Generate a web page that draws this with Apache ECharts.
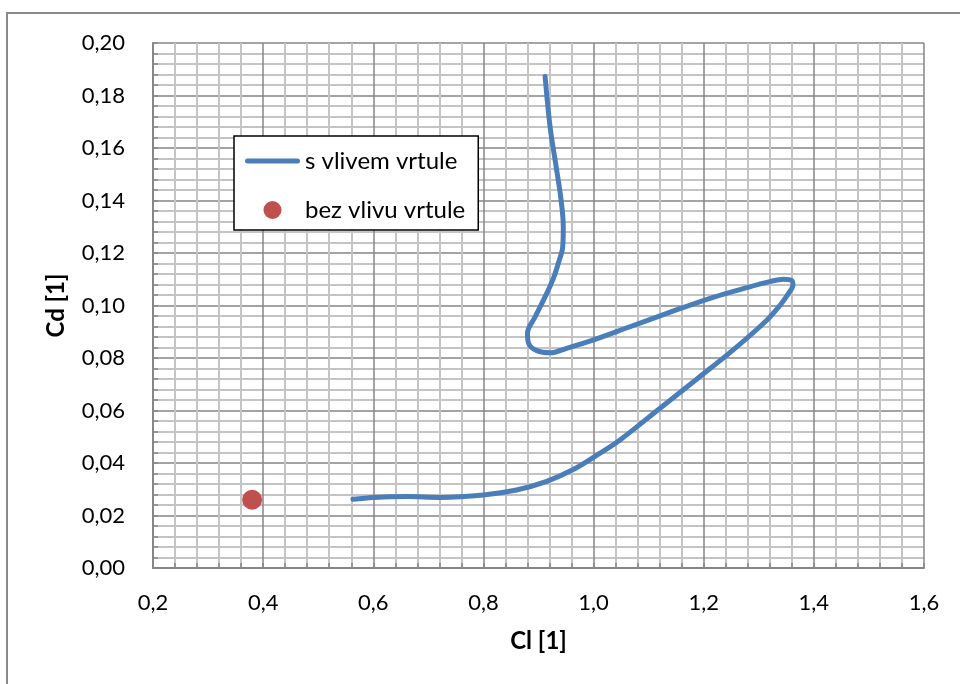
<!DOCTYPE html>
<html>
<head>
<meta charset="utf-8">
<script src="https://cdn.jsdelivr.net/npm/echarts@6/dist/echarts.min.js"></script>
<style>
  html, body { margin: 0; padding: 0; background: #ffffff; }
  #chart { width: 960px; height: 684px; }
</style>
</head>
<body>
<div id="chart"></div>
<script>
// Drag polar: Cl (x) against Cd (y)
const seriesNames = ['s vlivem vrtule', 'bez vlivu vrtule'];

// with propeller influence, traced along the polar
const clWithProp = [0.563, 0.600, 0.661, 0.721, 0.800, 0.860, 0.915, 0.963, 1.006, 1.048,
  1.119, 1.190, 1.253, 1.315, 1.339, 1.354, 1.362, 1.360, 1.345, 1.320,
  1.278, 1.217, 1.133, 1.066, 1.000, 0.951, 0.921, 0.897, 0.882, 0.880,
  0.894, 0.915, 0.927, 0.936, 0.944, 0.945, 0.941, 0.932, 0.921, 0.912];
const cdWithProp = [0.0262, 0.0269, 0.0272, 0.0269, 0.0278, 0.0297, 0.0330, 0.0375, 0.0430, 0.0488,
  0.0606, 0.0724, 0.0830, 0.0945, 0.1002, 0.1046, 0.1078, 0.1095, 0.1100, 0.1091,
  0.1068, 0.1031, 0.0970, 0.0919, 0.0869, 0.0837, 0.0820, 0.0828, 0.0856, 0.0894,
  0.0957, 0.1046, 0.1103, 0.1161, 0.1224, 0.1300, 0.1402, 0.1529, 0.1681, 0.1872];

// without propeller influence, single point
const clNoProp = [0.380];
const cdNoProp = [0.026];

const xTickStep = 0.2;
const yTickStep = 0.02;

const FONT = 'Lato';
const axisDark = '#868686';
const gridLight = '#c4c4c4';
const lineBlue = '#4a7ebb';
const dotRed = '#c0504d';

// thick rounded bar used as the legend icon of the polar line
const lineIcon = 'path://M2.5,0 L52.5,0 A2.5,2.5 0 0 1 52.5,5 L2.5,5 A2.5,2.5 0 0 1 2.5,0 Z';

const chart = echarts.init(document.getElementById('chart'), null, { renderer: 'canvas' });

const zip = (a, b) => a.map((v, i) => [v, b[i]]);

chart.setOption({
  animation: false,
  backgroundColor: '#ffffff',
  textStyle: { fontFamily: FONT },
  graphic: [{
    type: 'rect',
    silent: true,
    z: -10,
    shape: { x: 7, y: 13, width: 1000, height: 800 },
    style: { fill: 'none', stroke: '#8a8a8a', lineWidth: 2 }
  }],
  grid: {
    left: 153, right: 36, top: 43, bottom: 116,
    containLabel: false,
    outerBoundsMode: 'none'
  },
  legend: {
    show: true,
    orient: 'vertical',
    left: 234, top: 136,
    padding: [13, 13, 8, 11],
    itemWidth: 55, itemHeight: 18, itemGap: 25,
    symbolKeepAspect: true,
    backgroundColor: '#ffffff',
    borderColor: '#000000', borderWidth: 1.5, borderRadius: 0,
    textStyle: { fontFamily: FONT, fontSize: 24, color: '#000000' },
    data: [
      { name: seriesNames[0], icon: lineIcon },
      { name: seriesNames[1], icon: 'circle' }
    ]
  },
  xAxis: {
    type: 'value',
    min: 0.2, max: 1.6, interval: xTickStep,
    name: 'Cl [1]', nameLocation: 'middle', nameGap: 61,
    nameTextStyle: { fontFamily: FONT, fontSize: 24, fontWeight: 'bold', color: '#000000' },
    axisLine: { show: true, lineStyle: { color: axisDark, width: 2 } },
    axisTick: { show: true, inside: true, length: 5, lineStyle: { color: axisDark, width: 1.5 } },
    minorTick: { show: true, splitNumber: 5, length: 5, lineStyle: { color: axisDark, width: 1.5 } },
    axisLabel: {
      margin: 24, fontFamily: FONT, fontSize: 22, color: '#000000',
      formatter: v => v.toFixed(1).replace('.', ',')
    },
    splitLine: { show: true, lineStyle: { color: axisDark, width: 1.5 } },
    minorSplitLine: { show: true, lineStyle: { color: gridLight, width: 2 } }
  },
  yAxis: {
    type: 'value',
    min: 0, max: 0.2, interval: yTickStep,
    name: 'Cd [1]', nameLocation: 'middle', nameGap: 85, nameRotate: 90,
    nameTextStyle: { fontFamily: FONT, fontSize: 24, fontWeight: 'bold', color: '#000000' },
    axisLine: { show: true, lineStyle: { color: axisDark, width: 2 } },
    axisTick: { show: true, inside: true, length: 5, lineStyle: { color: axisDark, width: 1.5 } },
    minorTick: { show: true, splitNumber: 5, length: 5, lineStyle: { color: axisDark, width: 1.5 } },
    axisLabel: {
      margin: 28, fontFamily: FONT, fontSize: 22, color: '#000000',
      formatter: v => v.toFixed(2).replace('.', ',')
    },
    splitLine: { show: true, lineStyle: { color: axisDark, width: 1.5 } },
    minorSplitLine: { show: true, lineStyle: { color: gridLight, width: 2 } }
  },
  series: [
    {
      name: seriesNames[0],
      type: 'line',
      data: zip(clWithProp, cdWithProp),
      smooth: 0.35,
      showSymbol: false,
      symbol: 'none',
      lineStyle: { color: lineBlue, width: 5, cap: 'round', join: 'round' },
      itemStyle: { color: lineBlue },
      z: 5
    },
    {
      name: seriesNames[1],
      type: 'scatter',
      data: zip(clNoProp, cdNoProp),
      symbol: 'circle',
      symbolSize: 20,
      itemStyle: { color: dotRed, opacity: 1 },
      z: 6
    }
  ]
});
</script>
</body>
</html>
